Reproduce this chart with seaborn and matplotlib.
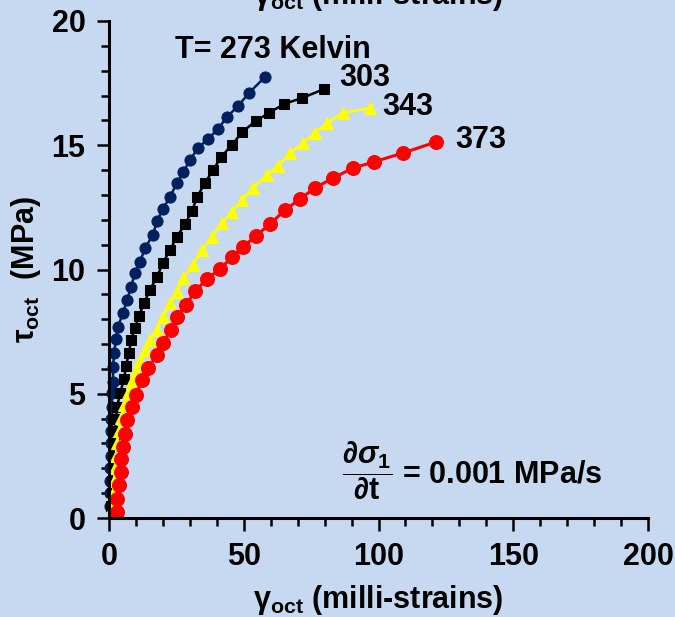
import matplotlib
matplotlib.use("Agg")
import matplotlib.pyplot as plt
import seaborn as sns
from matplotlib.ticker import MultipleLocator

# Octahedral shear strain (milli-strains) and shear stress (MPa)
x_273 = [0.2, 0.3, 0.4, 0.5, 0.6, 0.7, 0.8, 0.9, 1.1, 1.1, 1.5, 1.5, 1.9, 2.6, 3.3, 5.2, 6.7,
         8.2, 9.6, 11.5, 13.4, 16.3, 17.8, 20.0, 22.6, 25.2, 27.5, 30.1, 33.0, 36.7, 40.4,
         43.8, 47.9, 51.9, 57.9]
y_273 = [0.5, 1.0, 1.5, 2.0, 2.5, 3.0, 3.5, 4.0, 4.47, 5.03, 5.47, 6.08, 6.64, 7.20, 7.69,
         8.25, 8.77, 9.30, 9.86, 10.30, 10.87, 11.39, 11.95, 12.43, 12.92, 13.48, 13.92,
         14.41, 14.89, 15.25, 15.65, 16.14, 16.58, 17.10, 17.75]

x_303 = [0.7, 1.1, 1.1, 1.5, 1.5, 1.9, 2.2, 2.6, 3.0, 4.1, 5.6, 6.3, 7.4, 8.2, 9.6, 11.1,
         13.0, 15.2, 17.8, 20.0, 22.6, 25.2, 28.2, 30.8, 32.7, 35.6, 38.6, 41.6, 45.6,
         49.4, 54.5, 59.4, 64.9, 71.6, 79.8]
y_303 = [0.5, 1.0, 1.5, 2.0, 2.5, 3.0, 3.5, 4.0, 4.47, 5.03, 5.59, 6.12, 6.64, 7.16, 7.65,
         8.13, 8.65, 9.18, 9.70, 10.26, 10.78, 11.31, 11.83, 12.35, 12.92, 13.48, 14.00,
         14.53, 15.01, 15.53, 15.98, 16.30, 16.66, 16.90, 17.26]

x_343 = [1.5, 1.5, 1.9, 2.2, 2.6, 3.0, 3.7, 4.5, 5.6, 7.1, 8.5, 10.0, 11.5, 13.4, 15.2,
         17.8, 20.0, 22.6, 25.2, 27.5, 31.2, 34.5, 38.2, 41.9, 45.6, 49.4, 53.4, 58.6,
         62.7, 67.2, 72.0, 76.4, 80.9, 86.8, 96.8]
y_343 = [0.5, 1.0, 1.49, 2.01, 2.49, 3.02, 3.50, 4.02, 4.55, 5.03, 5.51, 5.96, 6.36, 6.76,
         7.16, 7.57, 8.09, 8.65, 9.09, 9.66, 10.18, 10.78, 11.31, 11.87, 12.31, 12.80,
         13.28, 13.80, 14.17, 14.69, 15.09, 15.49, 15.90, 16.30, 16.50]

x_373 = [3.0, 3.0, 3.7, 4.5, 4.5, 5.2, 5.9, 6.7, 8.5, 10.0, 12.2, 14.5, 17.8, 20.0, 23.0,
         25.2, 28.6, 31.9, 36.4, 41.2, 45.6, 49.7, 54.5, 59.7, 65.3, 70.9, 76.4, 83.1,
         90.5, 98.3, 109.1, 121.3]
y_373 = [0.24, 0.76, 1.33, 1.85, 2.37, 2.86, 3.38, 3.94, 4.47, 4.95, 5.55, 6.04, 6.56,
         7.04, 7.57, 8.09, 8.57, 9.13, 9.62, 10.02, 10.50, 10.91, 11.35, 11.83, 12.39,
         12.84, 13.28, 13.68, 14.08, 14.33, 14.69, 15.13]

bg = "#C6D9F1"
sns.set_theme(style="ticks")
plt.rcParams["font.family"] = ["Liberation Sans", "DejaVu Sans"]
plt.rcParams["font.weight"] = "bold"
plt.rcParams["text.color"] = "black"
plt.rcParams["axes.labelcolor"] = "black"
plt.rcParams["xtick.color"] = "black"
plt.rcParams["ytick.color"] = "black"
plt.rcParams["mathtext.fontset"] = "custom"
plt.rcParams["mathtext.rm"] = "Liberation Sans:bold"
plt.rcParams["mathtext.bf"] = "Liberation Sans:bold"
plt.rcParams["mathtext.it"] = "Liberation Sans:bold:italic"
plt.rcParams["mathtext.sf"] = "Liberation Sans:bold"
plt.rcParams["mathtext.fallback"] = "stixsans"

fig = plt.figure(figsize=(6.75, 6.17), dpi=100)
fig.patch.set_facecolor(bg)
ax = fig.add_axes([109 / 675, 99 / 617, 539 / 675, 497 / 617])
ax.set_facecolor(bg)

series = [
    (x_273, y_273, "#002060", "o", 8, 1.8),
    (x_303, y_303, "black", "s", 7, 1.8),
    (x_343, y_343, "#FFFF00", "^", 9, 1.8),
    (x_373, y_373, "#FF0000", "o", 10, 2.2),
]
for xs, ys, col, mk, ms, lw in series:
    sns.lineplot(x=xs, y=ys, sort=False, estimator=None, color=col, marker=mk,
                 markersize=ms, markeredgecolor=col, linewidth=lw, ax=ax, clip_on=False)

ax.set_xlim(0, 200)
ax.set_ylim(0, 20)
ax.xaxis.set_major_locator(MultipleLocator(50))
ax.xaxis.set_minor_locator(MultipleLocator(10))
ax.yaxis.set_major_locator(MultipleLocator(5))
ax.yaxis.set_minor_locator(MultipleLocator(1))
ax.tick_params(which="major", length=9, width=1.8, labelsize=22, pad=8)
ax.tick_params(which="minor", length=5.5, width=1.8)
sns.despine(ax=ax)
for s in ["left", "bottom"]:
    ax.spines[s].set_linewidth(2.2)
    ax.spines[s].set_color("black")

ax.set_xlabel(r"γ$_{\mathrm{oct}}$ (milli-strains)", fontsize=22, fontweight="bold", labelpad=8)
ax.set_ylabel(r"τ$_{\mathrm{oct}}$  (MPa)", fontsize=22, fontweight="bold", labelpad=6)

# cut-off copy of the axis title at the very top
fig.text(0.56, 0.993, r"γ$_{\mathrm{oct}}$ (milli-strains)", fontsize=22, fontweight="bold",
         ha="center", va="baseline")

ax.text(24.5, 18.83, "T= 273 Kelvin", fontsize=22, fontweight="bold", va="center")
ax.text(85.5, 17.7, "303", fontsize=22, fontweight="bold", va="center")
ax.text(101.5, 16.55, "343", fontsize=22, fontweight="bold", va="center")
ax.text(128.5, 15.2, "373", fontsize=22, fontweight="bold", va="center")
ax.text(86.5, 1.9, r"$\dfrac{\partial\sigma_1}{\partial\mathrm{t}}$ = 0.001 MPa/s",
        fontsize=22, fontweight="bold", va="center")

fig.savefig("out.png", dpi=100, facecolor=bg)
